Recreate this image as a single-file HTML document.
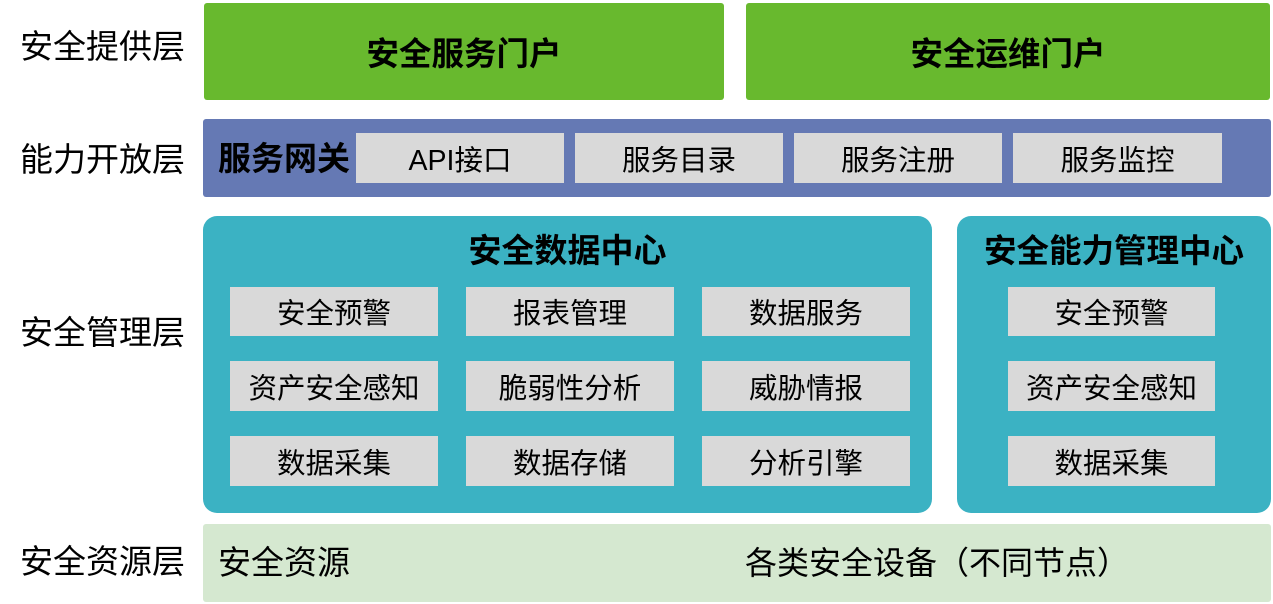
<!DOCTYPE html>
<html><head><meta charset="utf-8"><style>
body{margin:0;width:1273px;height:604px;background:#fff;position:relative;overflow:hidden;font-family:"Liberation Sans","Noto Sans CJK SC",sans-serif;color:#000}
div{position:absolute;box-sizing:border-box}
.lbl{left:20px;font-size:33px;line-height:38px;white-space:nowrap}
.c{display:flex;align-items:center;justify-content:center;white-space:nowrap}
.g{background:#d9d9d9;font-size:28.5px}
.b{font-weight:bold}
</style></head><body>
<div class="lbl" style="top:28px">安全提供层</div>
<div class="lbl" style="top:141px">能力开放层</div>
<div class="lbl" style="top:314px">安全管理层</div>
<div class="lbl" style="top:543px">安全资源层</div>

<div class="c b" style="left:204px;top:3px;width:520px;height:97px;background:#68b92e;border-radius:3px;font-size:32.5px">安全服务门户</div>
<div class="c b" style="left:746px;top:3px;width:524px;height:97px;background:#68b92e;border-radius:3px;font-size:32.5px">安全运维门户</div>

<div style="left:203px;top:119px;width:1068px;height:78px;background:#6579b4;border-radius:3px"></div>
<div class="b" style="left:218px;top:139px;font-size:33px;line-height:40px;white-space:nowrap">服务网关</div>
<div class="c g" style="left:356px;top:133px;width:208px;height:50px">API接口</div>
<div class="c g" style="left:575px;top:133px;width:208px;height:50px">服务目录</div>
<div class="c g" style="left:794px;top:133px;width:208px;height:50px">服务注册</div>
<div class="c g" style="left:1013px;top:133px;width:209px;height:50px">服务监控</div>

<div style="left:203px;top:216px;width:729px;height:297px;background:#3bb2c3;border-radius:14px"></div>
<div class="c b" style="left:203px;top:228px;width:729px;height:40px;font-size:33px">安全数据中心</div>
<div class="c g" style="left:230px;top:287px;width:208px;height:49px">安全预警</div>
<div class="c g" style="left:466px;top:287px;width:208px;height:49px">报表管理</div>
<div class="c g" style="left:702px;top:287px;width:208px;height:49px">数据服务</div>
<div class="c g" style="left:230px;top:361px;width:208px;height:50px">资产安全感知</div>
<div class="c g" style="left:466px;top:361px;width:208px;height:50px">脆弱性分析</div>
<div class="c g" style="left:702px;top:361px;width:208px;height:50px">威胁情报</div>
<div class="c g" style="left:230px;top:436px;width:208px;height:50px">数据采集</div>
<div class="c g" style="left:466px;top:436px;width:208px;height:50px">数据存储</div>
<div class="c g" style="left:702px;top:436px;width:208px;height:50px">分析引擎</div>

<div style="left:957px;top:216px;width:314px;height:297px;background:#3bb2c3;border-radius:14px"></div>
<div class="c b" style="left:957px;top:228px;width:314px;height:40px;font-size:32.5px">安全能力管理中心</div>
<div class="c g" style="left:1008px;top:287px;width:207px;height:49px">安全预警</div>
<div class="c g" style="left:1008px;top:361px;width:207px;height:50px">资产安全感知</div>
<div class="c g" style="left:1008px;top:436px;width:207px;height:50px">数据采集</div>

<div style="left:203px;top:524px;width:1068px;height:78px;background:#d5e8d0;border-radius:3px"></div>
<div style="left:218px;top:543px;font-size:33px;line-height:40px;white-space:nowrap">安全资源</div>
<div style="left:745px;top:543px;font-size:32px;line-height:40px;white-space:nowrap">各类安全设备（不同节点）</div>
</body></html>
